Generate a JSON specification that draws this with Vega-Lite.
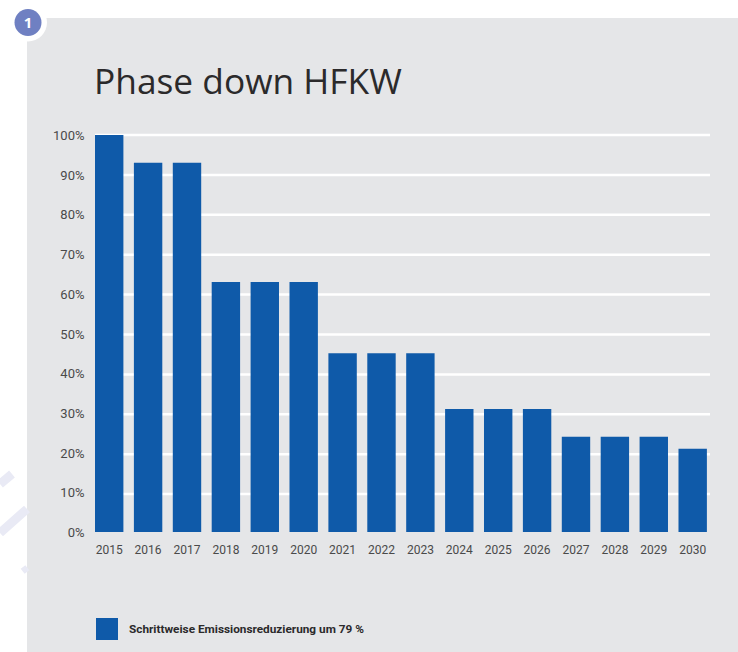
{
"$schema":"https://vega.github.io/schema/vega-lite/v6.json",
"width":711,"height":634,
"autosize":{"type":"none"},
"padding":{"left":27,"top":18,"right":0,"bottom":0},
"background":"#ffffff",
"view":{"fill":"#e5e6e8","stroke":null},
"title":{"text":"Phase down HFKW","anchor":"start","frame":"group","dx":67,"dy":126,"offset":0,"baseline":"alphabetic","font":"Open Sans","fontSize":35.3,"fontWeight":"normal","color":"#2b2a2b"},
"resolve":{"scale":{"x":"independent","y":"independent"},"axis":{"x":"independent","y":"independent"}},
"layer":[
{"data":{"values":[{"grid":10},{"grid":20},{"grid":30},{"grid":40},{"grid":50},{"grid":60},{"grid":70},{"grid":80},{"grid":90},{"grid":100}]},
 "mark":{"type":"rule","color":"#ffffff","strokeWidth":2.5},
 "encoding":{
  "x":{"datum":0,"type":"quantitative","scale":{"domain":[0,1],"range":[68,683]},"axis":null},
  "x2":{"datum":1},
  "y":{"field":"grid","type":"quantitative","scale":{"domain":[0,100],"range":[516,117]},"axis":null}
 }},
{"data":{"values":[
{"year":"2015","share":100,"series":"Schrittweise Emissionsreduzierung um 79 %"},
{"year":"2016","share":93,"series":"Schrittweise Emissionsreduzierung um 79 %"},
{"year":"2017","share":93,"series":"Schrittweise Emissionsreduzierung um 79 %"},
{"year":"2018","share":63,"series":"Schrittweise Emissionsreduzierung um 79 %"},
{"year":"2019","share":63,"series":"Schrittweise Emissionsreduzierung um 79 %"},
{"year":"2020","share":63,"series":"Schrittweise Emissionsreduzierung um 79 %"},
{"year":"2021","share":45,"series":"Schrittweise Emissionsreduzierung um 79 %"},
{"year":"2022","share":45,"series":"Schrittweise Emissionsreduzierung um 79 %"},
{"year":"2023","share":45,"series":"Schrittweise Emissionsreduzierung um 79 %"},
{"year":"2024","share":31,"series":"Schrittweise Emissionsreduzierung um 79 %"},
{"year":"2025","share":31,"series":"Schrittweise Emissionsreduzierung um 79 %"},
{"year":"2026","share":31,"series":"Schrittweise Emissionsreduzierung um 79 %"},
{"year":"2027","share":24,"series":"Schrittweise Emissionsreduzierung um 79 %"},
{"year":"2028","share":24,"series":"Schrittweise Emissionsreduzierung um 79 %"},
{"year":"2029","share":24,"series":"Schrittweise Emissionsreduzierung um 79 %"},
{"year":"2030","share":21,"series":"Schrittweise Emissionsreduzierung um 79 %"}
]},
 "mark":{"type":"bar"},
 "encoding":{
  "x":{"field":"year","type":"nominal","sort":null,"scale":{"range":[68,683],"paddingInner":0.27,"paddingOuter":0.04,"align":0},
   "axis":{"title":null,"orient":"bottom","domain":false,"ticks":false,"grid":false,"labelAngle":0,"labelFont":"Roboto","labelFontSize":12,"labelColor":"#4a4a4a","labelPadding":0,"offset":-108}},
  "y":{"field":"share","type":"quantitative","scale":{"domain":[0,100],"range":[514,117]},
   "axis":{"title":null,"orient":"left","values":[0,10,20,30,40,50,60,70,80,90,100],"labelExpr":"datum.value + '%'","domain":false,"ticks":false,"grid":false,"labelFont":"Roboto","labelFontSize":13,"labelColor":"#4a4a4a","labelPadding":0,"labelOffset":0.5,"offset":-57}},
  "color":{"field":"series","type":"nominal","scale":{"range":["#0f5aa9"]},
   "legend":{"title":null,"orient":"none","legendX":69,"legendY":600,"symbolType":"square","symbolSize":484,"symbolStrokeWidth":0,"symbolOpacity":1,"labelFont":"Roboto","labelFontSize":11.8,"labelFontWeight":"bold","labelColor":"#2b2a2b","labelLimit":400,"labelOffset":11,"padding":0}}
 }},
{"data":{"values":[{"badge":"1"}]},
 "mark":{"type":"point","filled":true,"fill":"#ffffff","size":1444,"opacity":1,"stroke":null},
 "encoding":{
  "x":{"datum":1,"type":"quantitative","scale":{"domain":[0,711],"range":[0,711]},"axis":null},
  "y":{"datum":4.5,"type":"quantitative","scale":{"domain":[0,634],"range":[0,634]},"axis":null}
 }},
{"data":{"values":[{"badge":"1"}]},
 "mark":{"type":"point","filled":true,"fill":"#6f80c2","size":729,"opacity":1,"stroke":null},
 "encoding":{
  "x":{"datum":1,"type":"quantitative","scale":{"domain":[0,711],"range":[0,711]},"axis":null},
  "y":{"datum":4.5,"type":"quantitative","scale":{"domain":[0,634],"range":[0,634]},"axis":null}
 }},
{"data":{"values":[{"badge":"1"}]},
 "mark":{"type":"text","color":"#ffffff","font":"Open Sans","fontWeight":"bold","fontSize":15,"align":"center","baseline":"middle"},
 "encoding":{
  "text":{"field":"badge"},
  "x":{"datum":1,"type":"quantitative","scale":{"domain":[0,711],"range":[0,711]},"axis":null},
  "y":{"datum":4.5,"type":"quantitative","scale":{"domain":[0,634],"range":[0,634]},"axis":null}
 }},
{"data":{"values":[{"stripe":"a"}]},
 "mark":{"type":"rule","color":"#e9eaf5","strokeWidth":9},
 "encoding":{
  "x":{"datum":-27,"type":"quantitative","scale":{"domain":[0,711],"range":[0,711]},"axis":null},
  "x2":{"datum":-15},
  "y":{"datum":466,"type":"quantitative","scale":{"domain":[0,634],"range":[0,634]},"axis":null},
  "y2":{"datum":456}
 }},
{"data":{"values":[{"stripe":"b"}]},
 "mark":{"type":"rule","color":"#e9eaf5","strokeWidth":9},
 "encoding":{
  "x":{"datum":-27,"type":"quantitative","scale":{"domain":[0,711],"range":[0,711]},"axis":null},
  "x2":{"datum":0},
  "y":{"datum":515,"type":"quantitative","scale":{"domain":[0,634],"range":[0,634]},"axis":null},
  "y2":{"datum":491}
 }},
{"data":{"values":[{"stripe":"c"}]},
 "mark":{"type":"rule","color":"#e9eaf5","strokeWidth":6},
 "encoding":{
  "x":{"datum":-4,"type":"quantitative","scale":{"domain":[0,711],"range":[0,711]},"axis":null},
  "x2":{"datum":0},
  "y":{"datum":549,"type":"quantitative","scale":{"domain":[0,634],"range":[0,634]},"axis":null},
  "y2":{"datum":554}
 }}
]
}
